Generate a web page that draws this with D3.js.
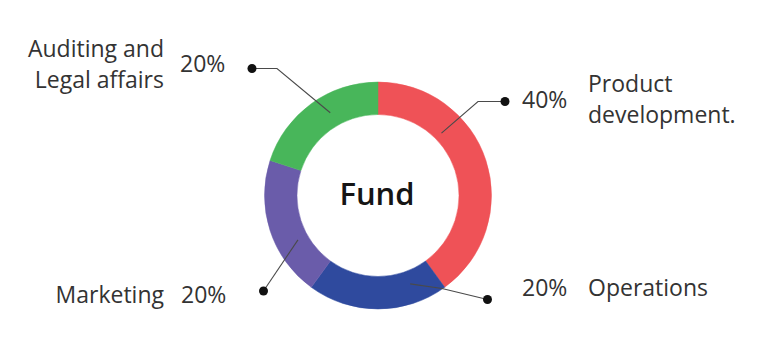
<!DOCTYPE html>
<html>
<head>
<meta charset="utf-8">
<script src="https://cdn.jsdelivr.net/npm/d3@7"></script>
<style>
  html, body { margin: 0; padding: 0; background: #fff; }
  svg { display: block; }
  text { font-family: "Open Sans", "Noto Sans", sans-serif; fill: #333333; }
</style>
</head>
<body>
<svg id="chart" width="764" height="361"></svg>
<script>
// ---- data ----
const categories = ["Product development.", "Operations", "Marketing", "Auditing and Legal affairs"];
const shares = [40, 20, 20, 20];
const percentLabels = ["40%", "20%", "20%", "20%"];
const colors = ["#ef5257", "#2f4a9e", "#6a5caa", "#48b65a"];
const centerTitle = "Fund";

// ---- layout (presentation only) ----
const W = 764, H = 361;
const cx = 378, cy = 195.5;
const rOuter = 113.5, rInner = 81;
const labelSize = 23;

// leader lines: start angle (deg, clockwise from top) & radius, elbow, dot
const leaders = [
  { angle: 45.5, r: 89, elbow: [478, 101.5], dot: [505, 101.5],
    pct: { x: 522, y: 108, anchor: "start" },
    name: { x: 588, ys: [92, 123], anchor: "start", lines: ["Product", "development."] } },
  { angle: 160, r: 94, elbow: [442, 288.5], dot: [487.5, 299.5],
    pct: { x: 522, y: 296, anchor: "start" },
    name: { x: 588, ys: [296], anchor: "start", lines: ["Operations"] } },
  { angle: 241, r: 91.5, elbow: null, dot: [263.5, 291],
    pct: { x: 181, y: 303, anchor: "start" },
    name: { x: 164, ys: [303], anchor: "end", lines: ["Marketing"] } },
  { angle: 330, r: 95.5, elbow: [277, 68.5], dot: [252, 68.5],
    pct: { x: 180, y: 72, anchor: "start" },
    name: { x: 164, ys: [57, 88], anchor: "end", lines: ["Auditing and", "Legal affairs"] } }
];

const svg = d3.select("#chart");
const g = svg.append("g").attr("transform", `translate(${cx},${cy})`);

const pie = d3.pie().sort(null).value(d => d.v).startAngle(0).endAngle(2 * Math.PI);
const arcs = pie(categories.map((c, i) => ({ c, v: shares[i], i })));
const arc = d3.arc().innerRadius(rInner).outerRadius(rOuter);

g.selectAll("path.slice")
  .data(arcs)
  .join("path")
  .attr("class", "slice")
  .attr("d", arc)
  .attr("fill", d => colors[d.data.i])
  .attr("stroke", d => colors[d.data.i])
  .attr("stroke-width", 0.5);

// center title
svg.append("text")
  .attr("x", cx - 1)
  .attr("y", 205)
  .attr("text-anchor", "middle")
  .attr("font-size", 31)
  .attr("font-weight", 600)
  .style("fill", "#151515")
  .text(centerTitle);

// leaders & labels
const pol = (deg, r) => {
  const a = deg * Math.PI / 180;
  return [cx + r * Math.sin(a), cy - r * Math.cos(a)];
};

leaders.forEach((L, i) => {
  const start = pol(L.angle, L.r);
  const pts = [start];
  if (L.elbow) pts.push(L.elbow);
  pts.push(L.dot);
  svg.append("path")
    .attr("d", d3.line()(pts))
    .attr("fill", "none")
    .attr("stroke", "#4a4a4a")
    .attr("stroke-width", 1.1);
  svg.append("circle")
    .attr("cx", L.dot[0]).attr("cy", L.dot[1])
    .attr("r", 4.5)
    .attr("fill", "#111");
  svg.append("text")
    .attr("x", L.pct.x).attr("y", L.pct.y)
    .attr("text-anchor", L.pct.anchor)
    .attr("font-size", labelSize)
    .text(percentLabels[i]);
  const t = svg.append("text")
    .attr("text-anchor", L.name.anchor)
    .attr("font-size", labelSize);
  L.name.lines.forEach((ln, k) => {
    t.append("tspan").attr("x", L.name.x).attr("y", L.name.ys[k]).text(ln);
  });
});
</script>
</body>
</html>
